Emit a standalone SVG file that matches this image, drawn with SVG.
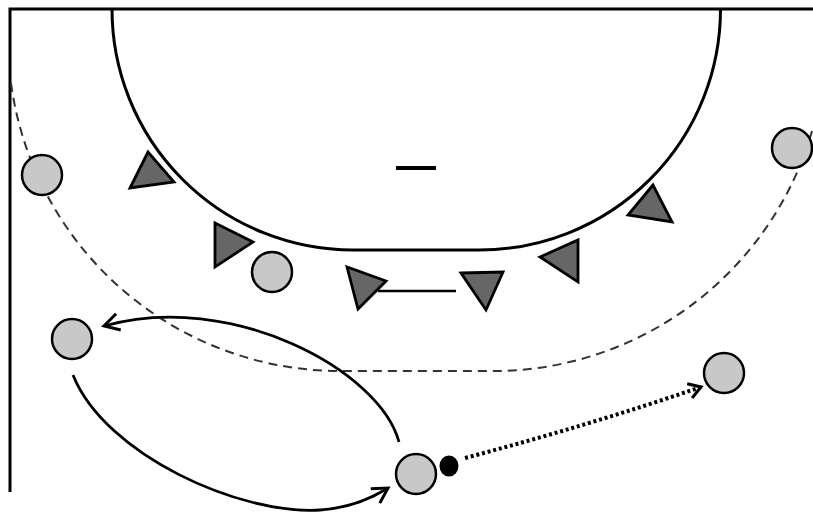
<svg xmlns="http://www.w3.org/2000/svg" width="813" height="513" viewBox="0 0 813 513">
  <style>
    .court { fill: none; stroke: #000; stroke-width: 3; }
    .zone { fill: none; stroke: #000; stroke-width: 3; }
    .freethrow { fill: none; stroke: #333; stroke-width: 2; stroke-dasharray: 9 6; }
    .player { fill: #c8c8c8; stroke: #000; stroke-width: 2.5; }
    .defender { fill: #666; stroke: #000; stroke-width: 2.8; stroke-linejoin: miter; }
    .ball { fill: #000; }
    .run { fill: none; stroke: #000; stroke-width: 2.8; }
    .pass { fill: none; stroke: #000; stroke-width: 4; stroke-dasharray: 3 2.8; }
    .block { fill: none; stroke: #000; stroke-width: 2.5; }
  </style>
  <defs>
    <marker id="arrow" markerUnits="userSpaceOnUse" markerWidth="40" markerHeight="40" refX="0" refY="0" orient="auto" overflow="visible">
      <path d="M -15 -8.5 L 0 0 L -15 8.5" fill="none" stroke="#000" stroke-width="3"/>
    </marker>
    <marker id="arrowSmall" markerUnits="userSpaceOnUse" markerWidth="40" markerHeight="40" refX="0" refY="0" orient="auto" overflow="visible">
      <path d="M -12 -7.5 L 0 0 L -12 7.5" fill="none" stroke="#000" stroke-width="3"/>
    </marker>
  </defs>

  <rect width="813" height="513" fill="#fff"/>

  <g id="court">
    <path class="court" d="M 10 492 L 10 9 L 813 9"/>
    <path class="zone" d="M 112 9 A 241 241 0 0 0 352.5 250 L 479.5 250 A 241 241 0 0 0 720.5 9"/>
    <path class="freethrow" d="M 11 83 A 332 332 0 0 0 340 371 L 492 371 A 332 332 0 0 0 812 131"/>
    <line x1="396" y1="168" x2="436" y2="168" stroke="#000" stroke-width="4"/>
  </g>

  <g id="connectors">
    <path id="run-1" class="run" d="M 399 442 C 380 370 230 290 104 326" marker-end="url(#arrow)"/>
    <path id="run-2" class="run" d="M 73 375 C 105 455 240 515 320 510 C 350 508 372 498 388 488" marker-end="url(#arrow)"/>
    <path id="pass" class="pass" d="M 465 458 Q 590 425 701 387" marker-end="url(#arrowSmall)"/>
    <line id="block" class="block" x1="378" y1="291" x2="456" y2="291"/>
  </g>

  <g id="defender-1"><polygon class="defender" points="148,152 130,188 174,182"/></g>
  <g id="defender-2"><polygon class="defender" points="215,223 215,267 253,242"/></g>
  <g id="defender-3"><polygon class="defender" points="347,267 358,309 386,281"/></g>
  <g id="defender-4"><polygon class="defender" points="461,273 503,272 486,310"/></g>
  <g id="defender-5"><polygon class="defender" points="540,257 578,240 578,282"/></g>
  <g id="defender-6"><polygon class="defender" points="653,185 628,215 672,222"/></g>

  <g id="player-left-wing"><circle class="player" cx="42" cy="175" r="20"/></g>
  <g id="player-right-wing"><circle class="player" cx="792" cy="148" r="20"/></g>
  <g id="player-pivot"><circle class="player" cx="272" cy="272" r="20"/></g>
  <g id="player-left-back"><circle class="player" cx="72" cy="339" r="20"/></g>
  <g id="player-center-back"><circle class="player" cx="416" cy="474" r="20"/></g>
  <g id="player-right-back"><circle class="player" cx="724" cy="373" r="20"/></g>
  <g id="ball"><ellipse class="ball" cx="449" cy="466" rx="9.5" ry="10.5"/></g>
</svg>
